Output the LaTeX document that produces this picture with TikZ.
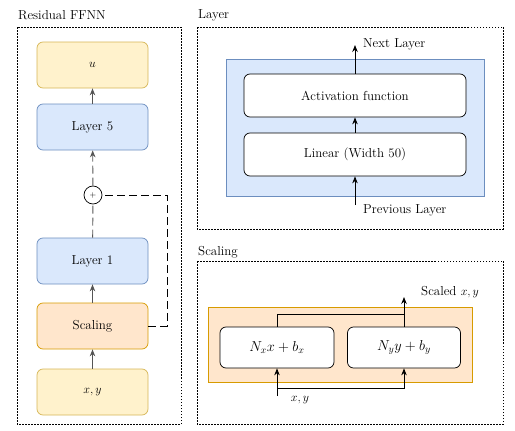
\documentclass[tikz,border=0pt]{standalone}
\usetikzlibrary{arrows.meta,calc}
\definecolor{ylwF}{HTML}{FFF2CC}\definecolor{ylwD}{HTML}{D6B656}
\definecolor{bluF}{HTML}{DAE8FC}\definecolor{bluD}{HTML}{6C8EBF}
\definecolor{orgF}{HTML}{FFE6CC}\definecolor{orgD}{HTML}{D79B00}
\definecolor{arrG}{HTML}{555555}
\begin{document}
\begin{tikzpicture}[x=1pt,y=-1pt,
  font=\fontsize{13}{15}\selectfont,
  box/.style={draw,rounded corners=6pt,minimum width=111pt,minimum height=46pt,line width=0.7pt,inner sep=0pt},
  ybox/.style={box,fill=ylwF,draw=ylwD},
  bbox/.style={box,fill=bluF,draw=bluD},
  obox/.style={box,fill=orgF,draw=orgD},
  wbox/.style={draw=black,fill=white,rounded corners=6pt,line width=0.7pt,inner sep=0pt},
  panel/.style={draw=black,dash pattern=on 1.5pt off 1.5pt,line width=0.6pt},
  arr/.style={-{Stealth[length=7pt,width=5.5pt]},line width=0.9pt},
  ttl/.style={anchor=west,inner sep=0pt}
]
\useasboundingbox (0,0) rectangle (515,431);
% ---------- Residual FFNN ----------
\draw[panel] (17,27) rectangle (181,424);
\node[ttl] (t1) at (18,15) {Residual FFNN};
\node[ybox] (u) at (92.5,65) {$u$};
\node[bbox] (l5) at (92.5,127) {Layer 5};
\node[draw,circle,minimum size=18pt,inner sep=0pt,line width=0.7pt,font=\fontsize{8}{9}\selectfont] (p) at (93,195) {$+$};
\node[bbox] (l1) at (92.5,261) {Layer 1};
\node[obox] (sc) at (92.5,326) {Scaling};
\node[ybox] (xy) at (92.5,392) {$x,y$};
\draw[arr,arrG] (l5) -- (u);
\draw[arr,arrG,dash pattern=on 8pt off 4pt] (p) -- (l5);
\draw[arrG,line width=0.9pt,dash pattern=on 8pt off 4pt] (l1) -- (p);
\draw[arr,arrG] (sc) -- (l1);
\draw[arr,arrG] (xy) -- (sc);
\coordinate (s1) at (167,326);
\coordinate (s2) at (167,195);
\draw[line width=0.8pt,dash pattern=on 8pt off 4pt] (sc.east) -- (s1) -- (s2) -- (p.east);
% ---------- Layer ----------
\draw[panel] (197,27) rectangle (503,229);
\node[ttl] (t2) at (198,15) {Layer};
\draw[fill=bluF,draw=bluD,line width=0.7pt] (226,59) rectangle (484,196);
\node[wbox,minimum width=222pt,minimum height=43pt] (act) at (355,95.5) {Activation function};
\node[wbox,minimum width=222pt,minimum height=43pt] (lin) at (355,154.5) {Linear (Width 50)};
\coordinate (nx) at (355,45);
\coordinate (pv) at (355,205);
\draw[arr] (lin) -- (act);
\draw[arr] (act) -- (nx);
\draw[arr] (pv) -- (lin);
\node[ttl] (nl) at (363,44) {Next Layer};
\node[ttl] (pl) at (363,210) {Previous Layer};
% ---------- Scaling ----------
\draw[panel] (197,261) rectangle (503,424);
\node[ttl] (t3) at (198,252) {Scaling};
\draw[fill=orgF,draw=orgD,line width=0.7pt] (208,307) rectangle (472,382);
\node[wbox,minimum width=114pt,minimum height=41pt,font=\fontsize{14.5}{17}\selectfont] (nxb) at (277,347.5) {$N_xx+b_x$};
\node[wbox,minimum width=113pt,minimum height=41pt,font=\fontsize{14.5}{17}\selectfont] (nyb) at (404,347.5) {$N_yy+b_y$};
\coordinate (out) at (404,297);
\coordinate (jn) at (404,314);
\draw[line width=0.8pt] (nxb.north) |- (jn);
\draw[arr] (nyb.north) -- (out);
\node[ttl] (sl) at (421,292) {Scaled $x,y$};
\coordinate (xin) at (277,396);
\coordinate (xj) at (277,388);
\draw[arr] (xin) -- (nxb.south);
\draw[arr] (xj) -| (nyb.south);
\node (xyl) at (300,400) {$x,y$};
\end{tikzpicture}
\end{document}
